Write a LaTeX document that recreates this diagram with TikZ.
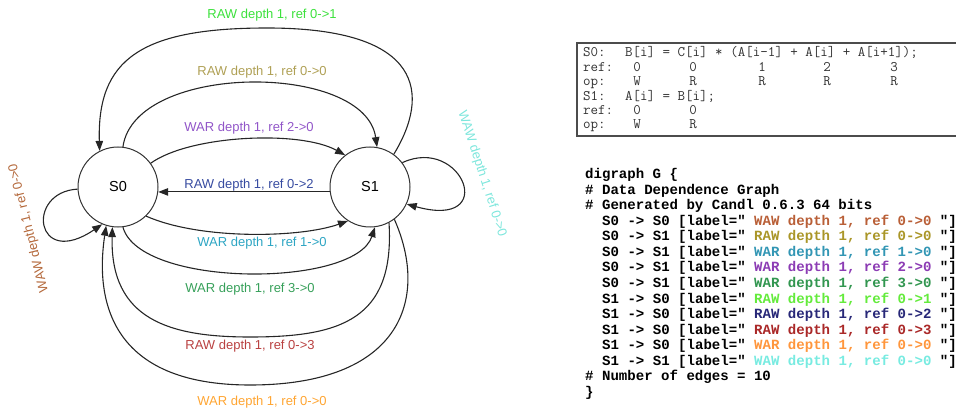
\documentclass[tikz,border=0pt]{standalone}
\usepackage{fontspec}
\setmainfont{Liberation Sans}
\newfontfamily\lstfont{Liberation Mono}
\usetikzlibrary{arrows.meta}
\definecolor{cRAWa}{RGB}{60,225,60}
\definecolor{cRAWb}{RGB}{175,160,85}
\definecolor{cWARc}{RGB}{145,85,200}
\definecolor{cRAWd}{RGB}{55,75,160}
\definecolor{cWARe}{RGB}{45,165,195}
\definecolor{cWARf}{RGB}{55,160,90}
\definecolor{cRAWg}{RGB}{185,65,65}
\definecolor{cWARh}{RGB}{255,165,50}
\definecolor{cWAWi}{RGB}{180,105,60}
\definecolor{cWAWj}{RGB}{125,230,220}
\definecolor{lRAWa}{RGB}{100,235,60}
\definecolor{lRAWb}{RGB}{170,150,40}
\definecolor{lWARc}{RGB}{140,60,180}
\definecolor{lRAWd}{RGB}{40,40,120}
\definecolor{lWARe}{RGB}{50,150,180}
\definecolor{lWARf}{RGB}{50,150,80}
\definecolor{lRAWg}{RGB}{170,40,40}
\definecolor{lWARh}{RGB}{255,150,60}
\definecolor{lWAWi}{RGB}{185,95,55}
\definecolor{lWAWj}{RGB}{120,235,225}
\begin{document}
\begin{tikzpicture}[x=1pt,y=-1pt,
  stnode/.style={circle,draw=black!80,line width=1pt,minimum size=80pt,inner sep=0pt,font=\fontsize{14.5}{16}\selectfont},
  conn/.style={draw=black!85,line width=1.1pt,-{Triangle[length=10pt,width=7.5pt]}},
  elbl/.style={font=\fontsize{13}{15}\selectfont,inner sep=0pt},
  lstline/.style={font=\lstfont\bfseries\fontsize{14.07}{16}\selectfont,anchor=base west,inner sep=0pt},
  boxtxt/.style={font=\ttfamily\fontsize{14.57}{16}\selectfont,anchor=base west,inner sep=0pt,text=black!80},
  boxctr/.style={font=\ttfamily\fontsize{14.57}{16}\selectfont,anchor=base,inner sep=0pt,text=black!80},
]
\useasboundingbox (0,0) rectangle (956,414);

% ---- graph ----
\node[stnode] (S0) at (118,187) {S0};
\node[stnode] (S1) at (370,187) {S1};

\draw[conn] (S1.54) .. controls (430,95) and (425,28) .. (267,28) .. controls (140,28) and (97,60) .. (S0.117);
\draw[conn] (S0.83) .. controls (135,62) and (365,62) .. (S1.80);
\draw[conn] (S0.36) .. controls (190,135) and (300,130) .. (S1.128);
\draw[conn] (S1.187) -- (S0.-7);
\draw[conn] (S0.-46) .. controls (200,240) and (300,238) .. (S1.237);
\draw[conn] (S0.-83) .. controls (140,288) and (355,288) .. (S1.-83);
\draw[conn] (S1.-62) .. controls (395,320) and (340,337) .. (250,337) .. controls (170,337) and (110,320) .. (S0.-98);
\draw[conn] (S1.-53) .. controls (430,300) and (400,385) .. (250,385) .. controls (110,385) and (95,300) .. (S0.-107);
\draw[conn] (S0.183) .. controls (25,192) and (35,270) .. (S0.-113);
\draw[conn] (S1.37) .. controls (462,135) and (500,230) .. (S1.-25);

\node[elbl,text=cRAWa] (l1) at (272,15) {RAW depth 1, ref 0->1};
\node[elbl,text=cRAWb] (l2) at (262,72) {RAW depth 1, ref 0->0};
\node[elbl,text=cWARc] (l3) at (249,128) {WAR depth 1, ref 2->0};
\node[elbl,text=cRAWd] (l4) at (249,185) {RAW depth 1, ref 0->2};
\node[elbl,text=cWARe] (l5) at (262,243) {WAR depth 1, ref 1->0};
\node[elbl,text=cWARf] (l6) at (250,289) {WAR depth 1, ref 3->0};
\node[elbl,text=cRAWg] (l7) at (250,346) {RAW depth 1, ref 0->3};
\node[elbl,text=cWARh] (l8) at (262,402) {WAR depth 1, ref 0->0};
\node[elbl,text=cWAWi,rotate=104] (l9) at (29,228) {WAW depth 1, ref 0->0};
\node[elbl,text=cWAWj,rotate=-72] (l10) at (482,174) {WAW depth 1, ref 0->0};

% ---- statement box ----
\draw[draw=black!70,line width=1.5pt] (577,43) rectangle (962,136);
\node[boxtxt] (b1a) at (583,57) {S0:};
\node[boxtxt] (b1b) at (625,57) {B[i] = C[i] * (A[i-1] + A[i] + A[i+1]);};
\node[boxtxt] (b2a) at (583,71.4) {ref:};
\node[boxctr] at (637,71.4) {0};
\node[boxctr] at (693,71.4) {0};
\node[boxctr] at (762,71.4) {1};
\node[boxctr] at (827,71.4) {2};
\node[boxctr] at (894,71.4) {3};
\node[boxtxt] (b3a) at (583,85.8) {op:};
\node[boxctr] at (637,85.8) {W};
\node[boxctr] at (693,85.8) {R};
\node[boxctr] at (762,85.8) {R};
\node[boxctr] at (827,85.8) {R};
\node[boxctr] at (894,85.8) {R};
\node[boxtxt] (b4a) at (583,100.2) {S1:};
\node[boxtxt] (b4b) at (625,100.2) {A[i] = B[i];};
\node[boxtxt] (b5a) at (583,114.6) {ref:};
\node[boxctr] at (637,114.6) {0};
\node[boxctr] at (693,114.6) {0};
\node[boxtxt] (b6a) at (583,129) {op:};
\node[boxctr] at (637,129) {W};
\node[boxctr] at (693,129) {R};

% ---- dot listing ----
\node[lstline] at (585,178.5) {digraph G \{};
\node[lstline] at (585,194.07) {\# Data Dependence Graph};
\node[lstline] at (585,209.64) {\# Generated by Candl 0.6.3 64 bits};
\node[lstline] at (602,225.21) {S0 -> S0 [label=" \textcolor{lWAWi}{WAW depth 1, ref 0->0} "]};
\node[lstline] at (602,240.78) {S0 -> S1 [label=" \textcolor{lRAWb}{RAW depth 1, ref 0->0} "]};
\node[lstline] at (602,256.35) {S0 -> S1 [label=" \textcolor{lWARe}{WAR depth 1, ref 1->0} "]};
\node[lstline] at (602,271.92) {S0 -> S1 [label=" \textcolor{lWARc}{WAR depth 1, ref 2->0} "]};
\node[lstline] at (602,287.49) {S0 -> S1 [label=" \textcolor{lWARf}{WAR depth 1, ref 3->0} "]};
\node[lstline] at (602,303.06) {S1 -> S0 [label=" \textcolor{lRAWa}{RAW depth 1, ref 0->1} "]};
\node[lstline] at (602,318.63) {S1 -> S0 [label=" \textcolor{lRAWd}{RAW depth 1, ref 0->2} "]};
\node[lstline] at (602,334.2) {S1 -> S0 [label=" \textcolor{lRAWg}{RAW depth 1, ref 0->3} "]};
\node[lstline] at (602,349.77) {S1 -> S0 [label=" \textcolor{lWARh}{WAR depth 1, ref 0->0} "]};
\node[lstline] at (602,365.34) {S1 -> S1 [label=" \textcolor{lWAWj}{WAW depth 1, ref 0->0} "]};
\node[lstline] at (585,380.91) {\# Number of edges = 10};
\node[lstline] at (585,396.48) {\}};
\end{tikzpicture}
\end{document}
